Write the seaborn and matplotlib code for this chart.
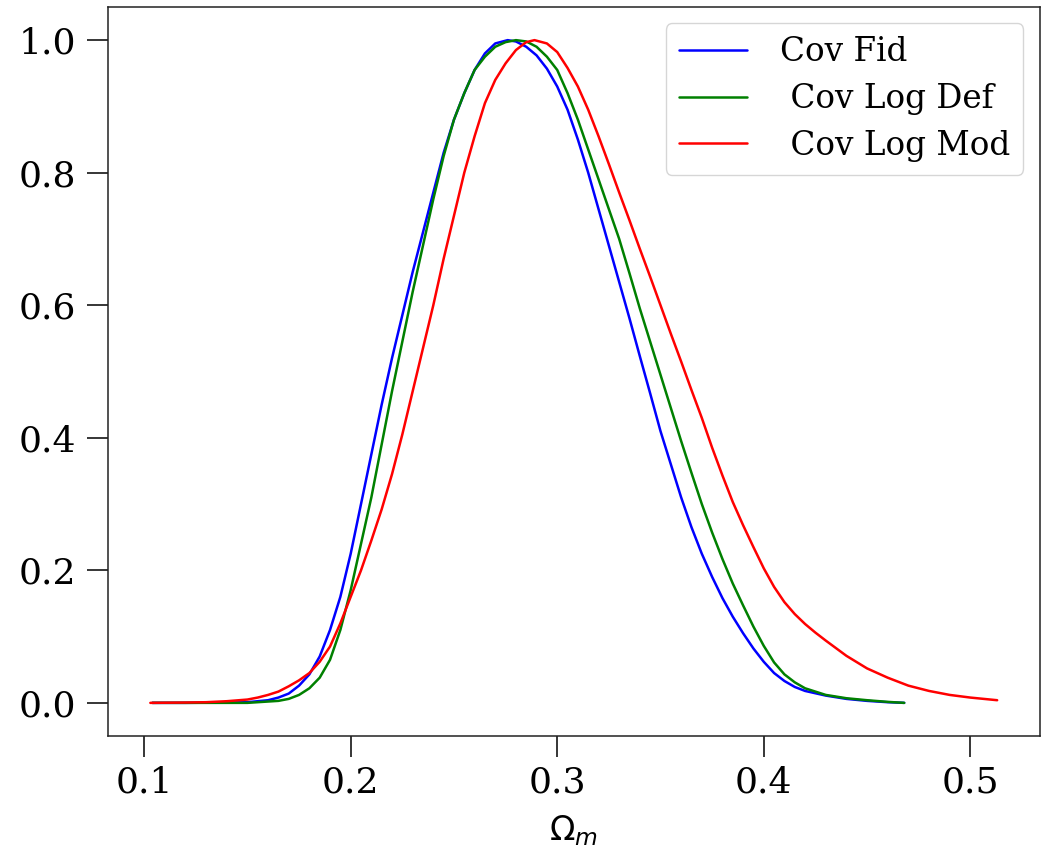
import matplotlib
matplotlib.use("Agg")
import matplotlib.pyplot as plt
import seaborn as sns
import pandas as pd

# Curves (normalised posteriors of Omega_m)
fid_x = [0.104, 0.12, 0.14, 0.15, 0.16, 0.165, 0.17, 0.175, 0.18, 0.185, 0.19, 0.195,
         0.20, 0.205, 0.21, 0.215, 0.22, 0.225, 0.23, 0.235, 0.24, 0.245, 0.25, 0.255,
         0.26, 0.265, 0.27, 0.276, 0.28, 0.285, 0.29, 0.295, 0.30, 0.305, 0.31, 0.315,
         0.32, 0.325, 0.33, 0.335, 0.34, 0.345, 0.35, 0.355, 0.36, 0.365, 0.37, 0.375,
         0.38, 0.385, 0.39, 0.395, 0.40, 0.405, 0.41, 0.415, 0.42, 0.43, 0.44, 0.45,
         0.46, 0.468]
fid_y = [0.0, 0.0, 0.0005, 0.001, 0.004, 0.008, 0.014, 0.026, 0.043, 0.07, 0.11, 0.16,
         0.225, 0.30, 0.375, 0.45, 0.52, 0.585, 0.65, 0.71, 0.77, 0.83, 0.88, 0.92,
         0.955, 0.98, 0.995, 1.0, 0.998, 0.99, 0.977, 0.957, 0.93, 0.895, 0.85, 0.80,
         0.745, 0.69, 0.635, 0.58, 0.523, 0.467, 0.41, 0.36, 0.31, 0.265, 0.225, 0.19,
         0.158, 0.13, 0.105, 0.082, 0.062, 0.045, 0.033, 0.024, 0.018, 0.011, 0.006, 0.003,
         0.001, 0.0]

def_x = [0.104, 0.15, 0.16, 0.165, 0.17, 0.175, 0.18, 0.185, 0.19, 0.195, 0.20, 0.205,
         0.21, 0.215, 0.22, 0.225, 0.23, 0.235, 0.24, 0.245, 0.25, 0.255, 0.26, 0.265,
         0.27, 0.275, 0.28, 0.285, 0.29, 0.295, 0.30, 0.305, 0.31, 0.315, 0.32, 0.325,
         0.33, 0.335, 0.34, 0.345, 0.35, 0.355, 0.36, 0.365, 0.37, 0.375, 0.38, 0.385,
         0.39, 0.395, 0.40, 0.405, 0.41, 0.415, 0.42, 0.43, 0.44, 0.45, 0.46, 0.468]
def_y = [0.0, 0.0, 0.002, 0.003, 0.006, 0.012, 0.022, 0.038, 0.065, 0.11, 0.17, 0.24,
         0.31, 0.39, 0.47, 0.545, 0.62, 0.69, 0.76, 0.825, 0.88, 0.92, 0.955, 0.975,
         0.99, 0.997, 1.0, 0.998, 0.99, 0.975, 0.955, 0.92, 0.88, 0.835, 0.79, 0.745,
         0.70, 0.648, 0.595, 0.545, 0.495, 0.445, 0.395, 0.347, 0.30, 0.257, 0.217, 0.18,
         0.147, 0.115, 0.086, 0.061, 0.043, 0.031, 0.022, 0.012, 0.007, 0.004, 0.0015, 0.0]

mod_x = [0.103, 0.12, 0.13, 0.14, 0.15, 0.155, 0.16, 0.165, 0.17, 0.175, 0.18, 0.185,
         0.19, 0.195, 0.20, 0.205, 0.21, 0.215, 0.22, 0.225, 0.23, 0.235, 0.24, 0.245,
         0.25, 0.255, 0.26, 0.265, 0.27, 0.275, 0.28, 0.285, 0.289, 0.295, 0.30, 0.305,
         0.31, 0.315, 0.32, 0.325, 0.33, 0.335, 0.34, 0.345, 0.35, 0.355, 0.36, 0.365,
         0.37, 0.375, 0.38, 0.385, 0.39, 0.395, 0.40, 0.405, 0.41, 0.415, 0.42, 0.425,
         0.43, 0.44, 0.45, 0.46, 0.47, 0.48, 0.49, 0.50, 0.513]
mod_y = [0.0, 0.0005, 0.001, 0.0025, 0.005, 0.008, 0.012, 0.017, 0.025, 0.034, 0.045, 0.062,
         0.085, 0.12, 0.16, 0.20, 0.245, 0.292, 0.345, 0.405, 0.47, 0.535, 0.60, 0.67,
         0.735, 0.80, 0.855, 0.905, 0.94, 0.965, 0.985, 0.997, 1.0, 0.995, 0.982, 0.958,
         0.93, 0.895, 0.855, 0.813, 0.77, 0.728, 0.685, 0.643, 0.60, 0.557, 0.515, 0.472,
         0.43, 0.385, 0.343, 0.303, 0.268, 0.235, 0.203, 0.175, 0.152, 0.134, 0.119, 0.106,
         0.094, 0.071, 0.052, 0.038, 0.026, 0.018, 0.012, 0.008, 0.004]

labels = ["Cov Fid", " Cov Log Def", " Cov Log Mod"]
colors = ["blue", "green", "red"]

sns.set_theme(style="ticks")
plt.rcParams["font.family"] = ["DejaVu Serif"]
plt.rcParams["mathtext.fontset"] = "dejavusans"
plt.rcParams["text.color"] = "black"
plt.rcParams["xtick.color"] = "black"
plt.rcParams["ytick.color"] = "black"
plt.rcParams["axes.labelcolor"] = "black"

fig = plt.figure(figsize=(10.41, 8.52), dpi=100)
ax = fig.add_axes([108 / 1041, 1 - 736 / 852, 931.5 / 1041, 729 / 852])

series = [(fid_x, fid_y), (def_x, def_y), (mod_x, mod_y)]
for (xs, ys), lab, col in zip(series, labels, colors):
    df = pd.DataFrame({"x": xs, "y": ys})
    sns.lineplot(data=df, x="x", y="y", color=col, label=lab, linewidth=1.8, ax=ax)

ax.set_xticks([0.1, 0.2, 0.3, 0.4, 0.5])
ax.set_yticks([0.0, 0.2, 0.4, 0.6, 0.8, 1.0])
ax.tick_params(axis="both", labelsize=26, length=15, width=1.1)
ax.tick_params(axis="x", pad=6)
ax.tick_params(axis="y", pad=8)
for sp in ax.spines.values():
    sp.set_linewidth(1.1)
    sp.set_color("#222222")

ax.set_xlabel(r"$\Omega_m$", fontsize=24, labelpad=10)
ax.set_ylabel("")
ax.legend(loc="upper right", fontsize=23.5, frameon=True, handlelength=2.1,
          labelspacing=0.45, handletextpad=1.0)

fig.savefig("out.png", dpi=100)
